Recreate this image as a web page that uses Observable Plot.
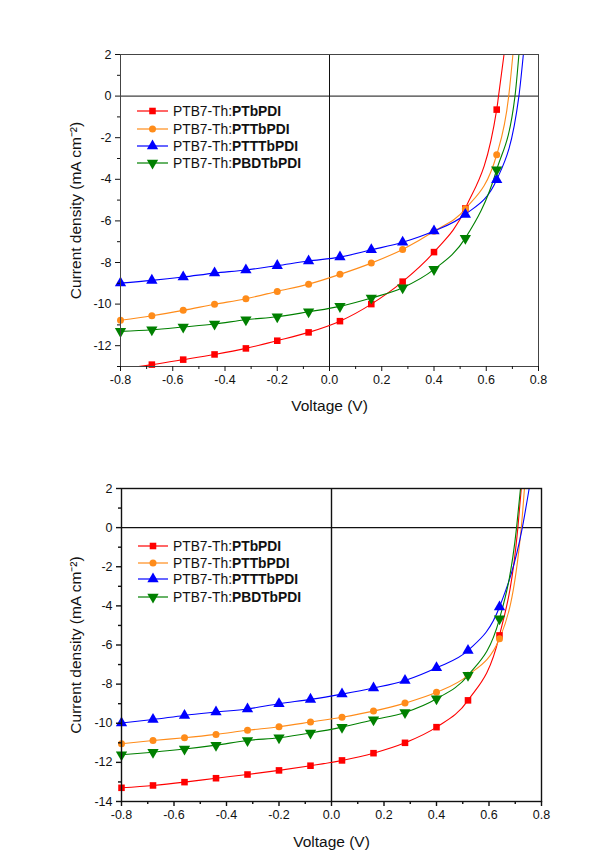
<!DOCTYPE html>
<html>
<head>
<meta charset="utf-8">
<script src="https://cdn.jsdelivr.net/npm/d3@7"></script>
<script src="https://cdn.jsdelivr.net/npm/@observablehq/plot@0.6"></script>
<style>
  body { margin: 0; background: #fff; font-family: "Liberation Sans", Arial, sans-serif; }
  #wrap { position: relative; width: 615px; height: 857px; overflow: hidden; }
  .panel { position: absolute; left: 0; }
  .leg { position: absolute; display: flex; align-items: center; font-size: 13.8px; color: #111; white-space: nowrap; }
  .leg svg { display: block; }
  .leg b { font-weight: bold; }
</style>
</head>
<body>
<div id="wrap"></div>
<script>
// ---- data ----
const voltages = [-0.8, -0.68, -0.56, -0.44, -0.32, -0.2, -0.08, 0.04, 0.16, 0.28, 0.40, 0.52, 0.64];
const seriesNames = ["PTbPDI", "PTTbPDI", "PTTTbPDI", "PBDTbPDI"];
const seriesColors = ["#ff0000", "#ff8c1a", "#0000ff", "#008000"];
const donor = "PTB7-Th:";

// top panel (J in mA cm-2)
const topPTbPDI   = [-13.12, -12.91, -12.67, -12.42, -12.13, -11.76, -11.36, -10.82, -10.0, -8.92, -7.5, -5.4, -0.65];
const topPTTbPDI  = [-10.78, -10.56, -10.30, -10.01, -9.74, -9.39, -9.04, -8.57, -8.03, -7.37, -6.50, -5.42, -2.82];
const topPTTTbPDI = [-8.99, -8.86, -8.70, -8.51, -8.36, -8.15, -7.93, -7.74, -7.39, -7.03, -6.49, -5.69, -4.02];
const topPBDTbPDI = [-11.31, -11.23, -11.10, -10.96, -10.75, -10.61, -10.37, -10.11, -9.71, -9.21, -8.33, -6.83, -3.54];
const topVoc  = [0.647, 0.686, 0.725, 0.710];  // voltage where J = 0
const topVtop = [0.668, 0.702, 0.742, 0.725];  // voltage where J = 2

// bottom panel
const botPTbPDI   = [-13.3, -13.18, -13.01, -12.81, -12.62, -12.41, -12.17, -11.9, -11.53, -11.0, -10.2, -8.83, -5.51];
const botPTTbPDI  = [-11.05, -10.88, -10.74, -10.57, -10.36, -10.18, -9.94, -9.69, -9.38, -8.97, -8.42, -7.55, -5.68];
const botPTTTbPDI = [-9.99, -9.81, -9.60, -9.43, -9.27, -9.0, -8.78, -8.51, -8.2, -7.81, -7.16, -6.28, -4.06];
const botPBDTbPDI = [-11.61, -11.48, -11.32, -11.12, -10.88, -10.74, -10.5, -10.2, -9.82, -9.45, -8.75, -7.55, -4.66];
const botVoc  = [0.710, 0.723, 0.727, 0.705];
const botVtop = [0.723, 0.735, 0.753, 0.720];

const xMajor = [-0.8, -0.6, -0.4, -0.2, 0.0, 0.2, 0.4, 0.6, 0.8];
const xMinor = [-0.7, -0.5, -0.3, -0.1, 0.1, 0.3, 0.5, 0.7];
const topYMajor = [2, 0, -2, -4, -6, -8, -10, -12];
const topYMinor = [1, -1, -3, -5, -7, -9, -11, -13];
const botYMajor = [2, 0, -2, -4, -6, -8, -10, -12, -14];
const botYMinor = [1, -1, -3, -5, -7, -9, -11, -13];

// ---- symbols ----
const triangleDown = {
  draw(context, size) {
    const s3 = Math.sqrt(3);
    const y = -Math.sqrt(size / (s3 * 3));
    context.moveTo(0, -y * 2);
    context.lineTo(-s3 * y, y);
    context.lineTo(s3 * y, y);
    context.closePath();
  }
};
const symbols = ["square", "circle", "triangle", triangleDown];
const radii = [3.7, 3.5, 4.2, 4.2];

function buildPanel(series, voc, vtop, yDomain, yMajor, yMinor, m, height) {
  const marks = [];
  const order = [0, 1, 2, 3];
  marks.push(Plot.ruleY([0], {stroke: "#111", strokeWidth: m.sw}));
  marks.push(Plot.ruleX([0], {stroke: "#111", strokeWidth: m.sw}));
  for (const i of order) {
    const pts = voltages.map((v, k) => ({x: v, y: series[i][k]}));
    const line = pts.concat([{x: voc[i], y: 0}, {x: vtop[i], y: 2}]);
    marks.push(Plot.line(line, {x: "x", y: "y", stroke: seriesColors[i], strokeWidth: 1.1, curve: "monotone-x", clip: true}));
  }
  for (const i of order) {
    const pts = voltages.map((v, k) => ({x: v, y: series[i][k]})).filter(d => d.y >= yDomain[0] && d.y <= yDomain[1]);
    marks.push(Plot.dot(pts, {x: "x", y: "y", symbol: symbols[i], r: radii[i], fill: seriesColors[i], stroke: "none"}));
  }
  marks.push(Plot.frame({stroke: m.frame, strokeWidth: m.sw}));
  marks.push(Plot.axisX({ticks: xMajor, tickSize: 5, tickPadding: 4, tickFormat: d => d.toFixed(1), label: null, fontSize: 12.5, strokeWidth: m.sw}));
  marks.push(Plot.axisX({ticks: xMinor, tickSize: 3, tickFormat: () => "", label: null, strokeWidth: m.sw}));
  marks.push(Plot.axisY({ticks: yMajor, tickSize: 5, tickPadding: 4, tickFormat: d => String(d), label: null, fontSize: 12.5, strokeWidth: m.sw}));
  marks.push(Plot.axisY({ticks: yMinor, tickSize: 3, tickFormat: () => "", label: null, strokeWidth: m.sw}));
  marks.push(Plot.text(["Current density (mA cm\u207B\u00B2)"], {frameAnchor: "left", dx: -m.labelDx, rotate: -90, textAnchor: "middle", lineAnchor: "middle", fontSize: 15.5, fill: "#111"}));
  marks.push(Plot.text(["Voltage (V)"], {frameAnchor: "bottom", dy: m.xLabelDy, textAnchor: "middle", lineAnchor: "middle", fontSize: 15.5, fill: "#111"}));
  return Plot.plot({
    width: 615,
    height,
    marginTop: m.top, marginBottom: m.bottom, marginLeft: m.left, marginRight: m.right,
    x: {domain: [-0.8, 0.8]},
    y: {domain: yDomain},
    style: {fontFamily: "'Liberation Sans', Arial, sans-serif", color: "#111", background: "transparent"},
    marks
  });
}

function legend(parent, rows, lineX0, lineX1, textX) {
  rows.forEach((cy, i) => {
    const div = document.createElement("div");
    div.className = "leg";
    div.style.left = lineX0 + "px";
    div.style.top = (cy - 8) + "px";
    div.style.height = "16px";
    const w = lineX1 - lineX0;
    const svg = d3.create("svg").attr("width", w).attr("height", 16);
    svg.append("line").attr("x1", 0).attr("x2", w).attr("y1", 8).attr("y2", 8).attr("stroke", seriesColors[i]).attr("stroke-width", 1.2);
    const sym = typeof symbols[i] === "string"
      ? {square: d3.symbolSquare, circle: d3.symbolCircle, triangle: d3.symbolTriangle}[symbols[i]]
      : symbols[i];
    svg.append("path").attr("transform", `translate(${w / 2},8)`).attr("d", d3.symbol(sym, Math.PI * radii[i] * radii[i])()).attr("fill", seriesColors[i]);
    const node = svg.node();
    node.style.marginRight = (textX - lineX1) + "px";
    div.appendChild(node);
    const span = document.createElement("span");
    span.innerHTML = donor + "<b>" + seriesNames[i] + "</b>";
    div.appendChild(span);
    parent.appendChild(div);
  });
}

const wrap = document.getElementById("wrap");

const topDiv = document.createElement("div");
topDiv.className = "panel"; topDiv.style.top = "0px";
topDiv.appendChild(buildPanel([topPTbPDI, topPTTbPDI, topPTTTbPDI, topPBDTbPDI], topVoc, topVtop,
  [-13, 2], topYMajor, topYMinor, {top: 54, bottom: 64, left: 120, right: 77, labelDx: 44, xLabelDy: 40, sw: 1, frame: "#444"}, 430));
wrap.appendChild(topDiv);

const botDiv = document.createElement("div");
botDiv.className = "panel"; botDiv.style.top = "430px";
botDiv.appendChild(buildPanel([botPTbPDI, botPTTbPDI, botPTTTbPDI, botPBDTbPDI], botVoc, botVtop,
  [-14, 2], botYMajor, botYMinor, {top: 58, bottom: 56, left: 121, right: 74, labelDx: 45, xLabelDy: 41, sw: 1.4, frame: "#111"}, 427));
wrap.appendChild(botDiv);

legend(wrap, [111, 129, 146, 163], 137, 168, 173);
legend(wrap, [546, 563, 579, 597], 138, 168, 173);
</script>
</body>
</html>
